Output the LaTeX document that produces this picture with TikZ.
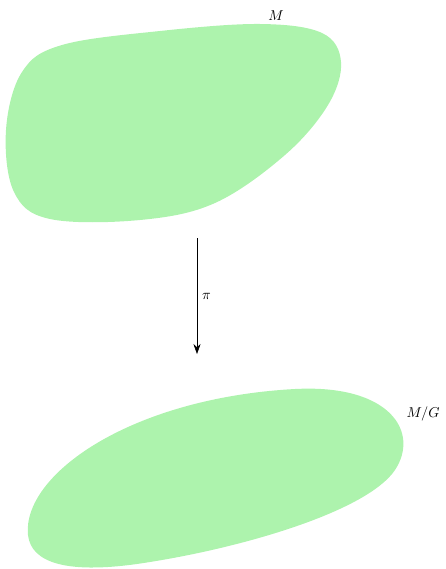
\documentclass[tikz,border=0pt]{standalone}
\usepackage{amsmath,amssymb}
\usepackage{xcolor}
\usepackage{tikz}
\usetikzlibrary{arrows.meta, positioning}

\definecolor{blobgreen}{RGB}{173,243,173}

\begin{document}
\begin{tikzpicture}[
    x=0.7pt, y=-0.7pt,
    blob/.style={fill=blobgreen, draw=none},
    arrow/.style={thin,-{Stealth[length=7pt,width=5pt]}}
]
\useasboundingbox (0,0) rectangle (446,569);

% total space
\fill[blob] plot[smooth cycle, tension=0.6] coordinates {
    (22,72) (62,45) (160,31) (260,24) (322,33) (341,62)
    (328,105) (285,155) (215,203) (140,220) (50,219)
    (14,192) (6,130)};
\node (m) at (276,16) {$M$};

% quotient
\fill[blob] (28,535) .. controls (22,475) and (130,398) .. (295,389)
    .. controls (390,384) and (420,432) .. (395,470)
    .. controls (368,510) and (250,546) .. (150,562)
    .. controls (65,576) and (31,562) .. (28,535) -- cycle;
\node (mg) at (423,414) {$M/G$};

\coordinate (top) at (197,238);
\coordinate (bot) at (197,354);
\draw [arrow] (top) -- node[anchor=west] {$\pi$} (bot);

\end{tikzpicture}
\end{document}
